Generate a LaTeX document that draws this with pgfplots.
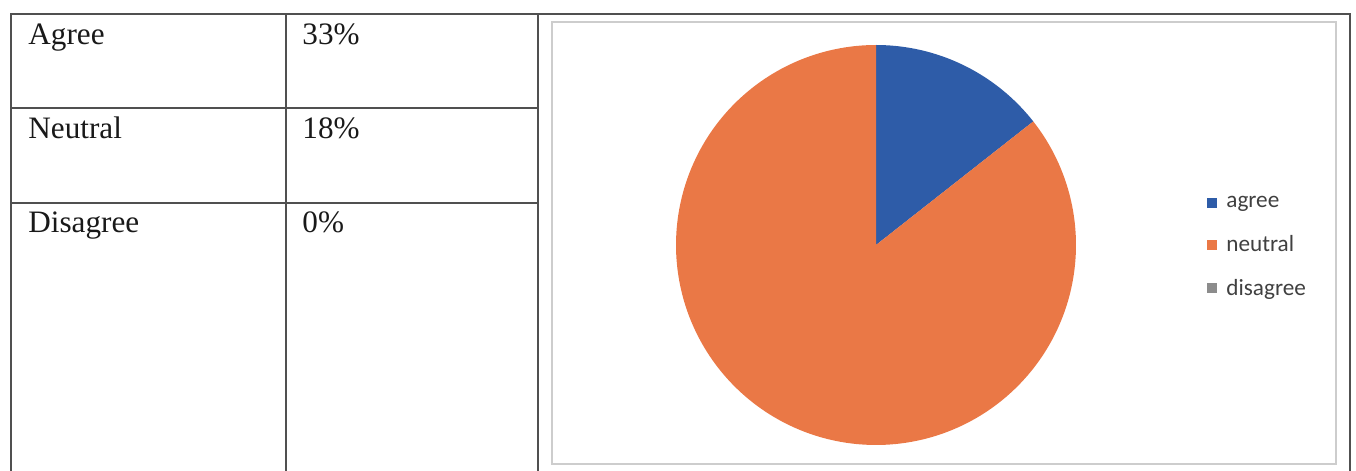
\documentclass[border=0pt]{standalone}
\usepackage{pgfplots}
\pgfplotsset{compat=1.18}
\usepackage{pgfplotstable}
\usepackage{fontspec}
\setmainfont{Liberation Serif}
\newfontfamily\carlito{Carlito}
\definecolor{agreeblue}{RGB}{46,92,168}
\definecolor{neutralorange}{RGB}{234,120,70}
\definecolor{disgray}{RGB}{140,140,140}
\definecolor{rulegray}{RGB}{80,80,80}
\definecolor{framegray}{RGB}{205,205,205}
\pgfplotstableread{
label value
agree 14.4
neutral 85.6
disagree 0
}\piedata
\begin{document}
\begin{tikzpicture}
\pgfplotstablegetelem{0}{value}\of\piedata \let\va\pgfplotsretval
\pgfplotstablegetelem{1}{value}\of\piedata \let\vn\pgfplotsretval
\pgfmathsetmacro{\aEnd}{90-3.6*\va}
\pgfmathsetmacro{\nEnd}{\aEnd-3.6*\vn}
\useasboundingbox (0,0) rectangle (678pt,235.5pt);
% table rules (pixel/2 coordinates)
\draw[rulegray, line width=1pt] (5.5pt,0pt) -- (5.5pt,228.5pt) -- (675pt,228.5pt) -- (675pt,0pt);
\draw[rulegray, line width=1pt] (143pt,228.5pt) -- (143pt,0pt);
\draw[rulegray, line width=1pt] (269pt,228.5pt) -- (269pt,0pt);
\draw[rulegray, line width=1pt] (5.5pt,181.5pt) -- (269pt,181.5pt);
\draw[rulegray, line width=1pt] (5.5pt,134pt) -- (269pt,134pt);
% inner chart frame
\draw[framegray, line width=0.7pt] (276pt,224.5pt) rectangle (668pt,3.5pt);
% table text
\begin{scope}[every node/.style={anchor=base west, inner sep=0pt, font=\fontsize{15.6}{18}\selectfont, text=black!90}]
\node at (14pt,213pt) {Agree};
\node at (151pt,213pt) {33\%};
\node at (14pt,166pt) {Neutral};
\node at (151pt,166pt) {18\%};
\node at (14pt,119pt) {Disagree};
\node at (151pt,119pt) {0\%};
\end{scope}
\begin{axis}[
  at={(438pt,113pt)}, anchor=center,
  x=100pt, y=100pt,
  xmin=-1, xmax=1, ymin=-1, ymax=1,
  hide axis, clip=false,
  legend image code/.code={\fill[#1] (0pt,-2.5pt) rectangle (5pt,2.5pt);},
  legend style={at={(axis cs:1.655,-0.01)}, anchor=west, draw=none, fill=none,
    font=\carlito\fontsize{11.6}{13.5}\selectfont, text=black!75,
    row sep=9.4pt, column sep=3pt, inner sep=0pt,
    nodes={inner sep=1.5pt}},
  legend cell align=left,
]
\addplot[fill=agreeblue, draw=none, domain=\aEnd:90, samples=60] ({cos(x)},{sin(x)}) -- (axis cs:0,0) -- cycle;
\addlegendentry{agree}
\addplot[fill=neutralorange, draw=none, domain=\nEnd:\aEnd, samples=240] ({cos(x)},{sin(x)}) -- (axis cs:0,0) -- cycle;
\addlegendentry{neutral}
\addlegendimage{fill=disgray, draw=none}
\addlegendentry{disagree}
\end{axis}
\end{tikzpicture}
\end{document}
